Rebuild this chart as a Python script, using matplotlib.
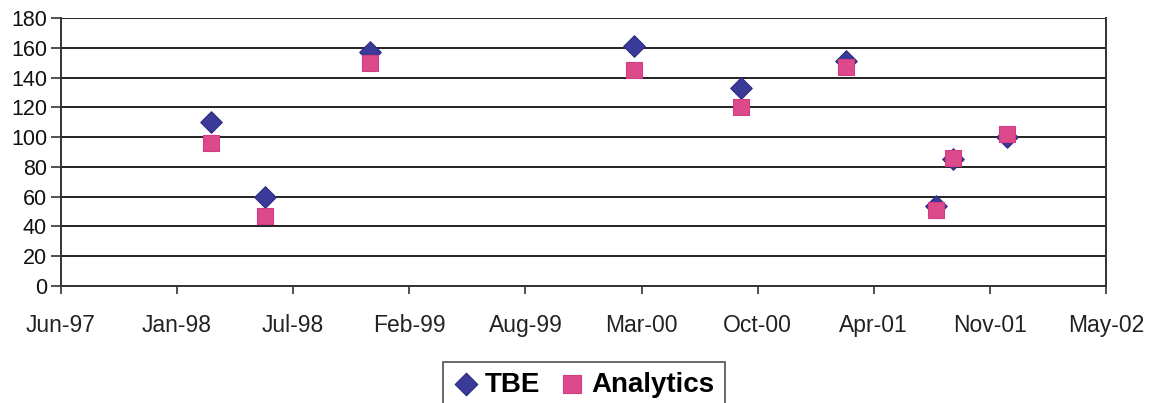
import datetime
import matplotlib
matplotlib.use('Agg')
import matplotlib.pyplot as plt
import matplotlib.dates as mdates
from matplotlib.ticker import MultipleLocator, FixedLocator

# sampling dates and the two measurement series
dates = ['1998-03-05', '1998-06-06', '1998-12-03', '2000-03-02', '2000-09-03',
         '2001-03-03', '2001-08-04', '2001-09-03', '2001-12-04']
tbe = [110, 60, 157, 161, 133, 151, 54, 85, 100]
analytics = [96, 47, 150, 145, 120, 147, 51, 86, 102]

plt.rcParams['font.family'] = ['Liberation Sans', 'DejaVu Sans']

days = [datetime.datetime.strptime(d, '%Y-%m-%d') for d in dates]

fig = plt.figure(figsize=(11.53, 4.03), dpi=100)
ax = fig.add_axes([0.0529, 0.2903, 0.9063, 0.6650])

ax.scatter(days, tbe, marker='D', s=120, color='#3a3a98', edgecolors='#2c2c80',
           linewidths=0.8, label='TBE', zorder=3)
ax.scatter(days, analytics, marker='s', s=140, color='#dc4a8c', edgecolors='#d23c80',
           linewidths=0.8, label='Analytics', zorder=4)

# date axis: 200 day steps from mid June 1997
start = datetime.datetime(1997, 6, 19)
ticks = [start + datetime.timedelta(days=200 * k) for k in range(10)]
ax.set_xlim(ticks[0], ticks[-1])
ax.xaxis.set_major_locator(FixedLocator(mdates.date2num(ticks)))
ax.xaxis.set_major_formatter(mdates.DateFormatter('%b-%y'))

ax.set_ylim(0, 180)
ax.yaxis.set_major_locator(MultipleLocator(20))
ax.yaxis.grid(True, color='#222222', linewidth=1.4)
ax.set_axisbelow(True)

for side in ['left', 'bottom', 'right']:
    ax.spines[side].set_color('#333333')
    ax.spines[side].set_linewidth(1.4)
ax.spines['top'].set_visible(False)

ax.tick_params(axis='y', direction='out', length=7, width=1.2, color='#333333',
               labelsize=15.5, pad=3, labelcolor='#111111')
ax.tick_params(axis='x', direction='out', length=6, width=1.2, color='#333333',
               labelsize=16.5, pad=14, labelcolor='#222222')

leg = fig.legend(loc='upper center', bbox_to_anchor=(0.5065, 0.1017), ncol=2,
                 frameon=True, fancybox=False, edgecolor='#222222',
                 prop={'weight': 'bold', 'size': 20}, handletextpad=0.25,
                 columnspacing=0.7, borderpad=0.35, borderaxespad=0,
                 handlelength=0.9, markerscale=1.05)
leg.get_frame().set_linewidth(1.2)

plt.savefig('out.png', dpi=100)
